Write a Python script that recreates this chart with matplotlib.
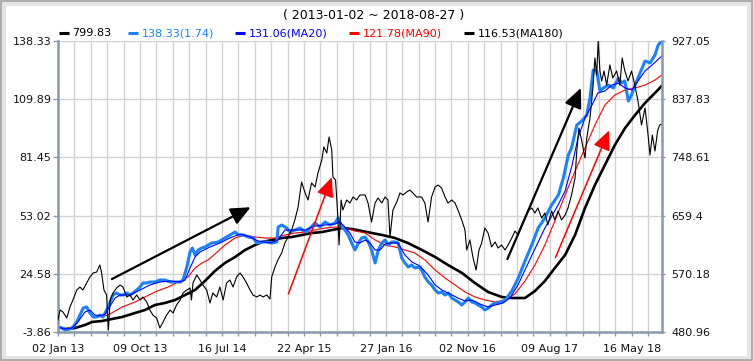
import matplotlib
matplotlib.use("Agg")
import matplotlib.pyplot as plt
import matplotlib.dates as mdates
from matplotlib.patches import Rectangle
from matplotlib.lines import Line2D
import numpy as np
import pandas as pd

start = pd.Timestamp("2013-01-02")
end = pd.Timestamp("2018-08-27")

# index close (right axis), days counted from start
idx_days = [0, 7, 17, 30, 41, 51, 64, 75, 85, 98, 109, 120, 132, 143, 149, 157, 166, 172, 178, 188,
            200, 212, 222, 235, 246, 256, 269, 280, 290, 303, 314, 324, 337, 348, 359, 371, 383, 393, 405, 417,
            427, 440, 451, 456, 461, 474, 485, 495, 508, 519, 529, 542, 553, 564, 576, 587, 598, 610, 622, 632,
            644, 656, 666, 679, 690, 700, 713, 724, 730, 741, 751, 764, 775, 786, 798, 809, 820, 832, 844, 854,
            866, 878, 888, 901, 908, 918, 926, 935, 939, 948, 955, 960, 967, 973, 986, 997, 1008, 1020, 1031, 1049,
            1059, 1071, 1083, 1093, 1106, 1117, 1127, 1134, 1144, 1157, 1168, 1178, 1191, 1202, 1212, 1225, 1242, 1253, 1264, 1276,
            1288, 1298, 1310, 1322, 1332, 1345, 1356, 1366, 1379, 1390, 1396, 1407, 1417, 1428, 1438, 1447, 1458, 1469, 1481, 1493,
            1503, 1515, 1527, 1537, 1550, 1561, 1571, 1584, 1595, 1605, 1618, 1629, 1639, 1652, 1663, 1673, 1686, 1697, 1708, 1720,
            1732, 1742, 1754, 1766, 1772, 1779, 1789, 1800, 1806, 1817, 1827, 1834, 1840, 1845, 1851, 1857, 1865, 1874, 1885, 1895,
            1908, 1919, 1927, 1936, 1947, 1959, 1970, 1981, 1993, 2005, 2014, 2022, 2030, 2039, 2048, 2055, 2063]
idx_vals = [499.4, 514.7, 511.6, 502.4, 519.3, 530.0, 545.3, 549.9, 545.3, 556.1, 565.3, 571.4, 572.9, 583.7, 571.4, 545.3, 537.7, 484.0, 530.0, 540.8,
            548.4, 553.0, 549.9, 534.6, 537.7, 530.0, 537.7, 530.0, 534.6, 527.0, 514.7, 507.0, 502.4, 487.1, 496.3, 507.0, 514.7, 510.1, 522.4, 530.0,
            540.8, 545.3, 548.4, 530.0, 556.1, 568.4, 560.7, 553.0, 545.3, 525.4, 540.8, 534.6, 549.9, 530.0, 556.1, 560.7, 549.9, 565.3, 571.4, 565.3,
            556.1, 545.3, 537.7, 534.6, 537.7, 534.6, 537.7, 531.6, 565.3, 580.6, 591.3, 602.1, 617.4, 626.6, 637.3, 652.7, 672.6, 710.9, 694.1, 683.3,
            709.4, 703.2, 724.7, 744.6, 764.6, 755.4, 779.9, 760.0, 718.6, 714.0, 663.4, 614.3, 683.3, 668.0, 683.3, 678.7, 687.9, 683.3, 691.0, 691.0,
            678.7, 649.6, 678.7, 686.4, 678.7, 687.9, 683.3, 626.6, 668.0, 680.2, 694.1, 691.0, 695.6, 698.6, 694.1, 687.9, 687.9, 678.7, 649.6, 687.9,
            703.2, 706.3, 701.7, 687.9, 678.7, 683.3, 678.7, 668.0, 652.7, 637.3, 606.7, 622.0, 596.0, 576.0, 606.7, 617.4, 640.4, 632.7, 611.3, 619.0,
            609.7, 614.3, 606.7, 614.3, 625.1, 635.8, 629.7, 645.0, 655.7, 666.5, 671.1, 663.4, 671.1, 655.7, 663.4, 645.0, 666.5, 652.7, 666.5, 652.7,
            660.3, 671.1, 691.0, 717.0, 758.4, 793.7, 773.8, 747.7, 778.4, 809.0, 855.0, 901.0, 875.0, 927.0, 881.1, 865.7, 881.1, 859.6, 890.3, 870.3,
            881.1, 859.6, 901.0, 881.1, 865.7, 881.1, 859.6, 835.1, 798.3, 824.4, 789.1, 752.3, 783.0, 758.4, 789.1, 798.3, 799.83]

# relative return line (left axis)
rel_days = [0, 13, 24, 41, 51, 64, 75, 86, 98, 109, 121, 132, 143, 154, 166, 178, 188, 200, 212, 222,
            235, 246, 256, 269, 280, 290, 303, 314, 331, 348, 365, 383, 400, 417, 427, 440, 451, 459, 468, 479,
            491, 502, 525, 547, 570, 587, 605, 616, 633, 650, 667, 679, 696, 713, 730, 747, 752, 764, 781, 792,
            809, 827, 844, 861, 878, 895, 912, 929, 946, 957, 969, 980, 991, 1003, 1014, 1026, 1037, 1049, 1060, 1071,
            1083, 1094, 1106, 1117, 1128, 1140, 1151, 1162, 1174, 1185, 1196, 1208, 1219, 1231, 1242, 1253, 1265, 1276, 1288, 1299,
            1310, 1322, 1333, 1345, 1356, 1367, 1379, 1390, 1401, 1413, 1424, 1435, 1447, 1458, 1470, 1481, 1492, 1504, 1515, 1527,
            1550, 1572, 1595, 1618, 1640, 1663, 1686, 1709, 1726, 1743, 1754, 1772, 1789, 1806, 1817, 1828, 1840, 1851, 1863, 1880,
            1897, 1914, 1925, 1936, 1948, 1959, 1971, 1988, 2005, 2022, 2039, 2050, 2063]
rel_vals = [-1.42, -1.91, -2.88, -2.39, -1.42, 1.03, 4.45, 7.87, 8.36, 5.42, 3.47, 3.47, 4.45, 3.47, 6.89, 10.80, 14.22, 15.20, 14.22, 14.22,
            15.20, 14.22, 15.20, 16.66, 18.13, 20.08, 20.08, 20.57, 20.57, 21.55, 21.55, 20.57, 20.57, 20.57, 21.55, 27.90, 35.23, 37.18, 33.76, 36.21,
            37.18, 37.67, 39.63, 40.12, 42.07, 43.54, 45.00, 43.54, 43.54, 42.56, 42.07, 39.63, 40.12, 40.12, 39.63, 40.12, 47.45, 48.42, 46.96, 45.00,
            45.98, 46.96, 45.00, 46.96, 49.40, 47.45, 49.89, 48.42, 49.40, 51.84, 47.45, 45.98, 43.54, 39.63, 36.21, 39.63, 42.07, 42.56, 40.12, 36.21,
            29.86, 36.21, 39.63, 41.09, 38.65, 40.12, 40.12, 39.63, 32.30, 29.86, 27.90, 28.88, 27.41, 27.90, 26.44, 23.01, 20.57, 19.11, 16.66, 15.20,
            15.69, 14.22, 15.20, 12.75, 11.78, 10.80, 9.33, 10.80, 12.75, 10.80, 10.31, 9.33, 8.36, 6.89, 7.87, 9.33, 10.31, 10.31, 10.80, 11.78,
            16.17, 22.53, 30.83, 38.65, 46.96, 51.84, 58.20, 63.08, 71.39, 82.63, 86.05, 97.29, 99.24, 102.17, 110.48, 124.16, 123.67, 113.90, 115.37, 116.83,
            115.37, 120.25, 117.81, 118.79, 109.01, 111.95, 116.83, 122.70, 128.56, 127.58, 131.49, 136.38, 138.33]

ma20_days = [0, 24, 48, 68, 92, 109, 126, 143, 161, 178, 195, 212, 246, 280, 314, 348, 383, 417, 434, 451,
             468, 485, 519, 553, 587, 622, 656, 683, 724, 751, 775, 809, 844, 878, 912, 946, 963, 980, 997, 1014,
             1031, 1049, 1066, 1083, 1100, 1117, 1134, 1161, 1185, 1209, 1236, 1264, 1288, 1311, 1339, 1366, 1390, 1414, 1441, 1469,
             1493, 1520, 1544, 1571, 1619, 1663, 1708, 1732, 1756, 1776, 1800, 1824, 1844, 1868, 1892, 1913, 1937, 1960, 1981, 2005,
             2029, 2063]
ma20_vals = [-1.42, -2.39, -1.91, 1.03, 5.91, 6.89, 4.45, 3.96, 4.94, 8.84, 12.75, 14.22, 14.22, 16.66, 19.11, 20.57, 21.06, 20.57, 21.55, 27.41,
             32.79, 35.23, 37.67, 39.63, 42.07, 44.03, 42.56, 40.61, 39.63, 41.09, 45.98, 45.98, 45.98, 47.93, 48.42, 48.91, 49.89, 47.45, 44.51, 40.12,
             39.63, 41.09, 39.63, 36.21, 36.21, 39.14, 39.63, 39.63, 33.76, 30.34, 28.39, 23.99, 19.11, 16.66, 14.71, 12.75, 11.29, 11.78, 9.82, 8.36,
             9.33, 10.31, 12.75, 19.11, 33.76, 46.96, 58.20, 65.04, 77.74, 90.93, 100.71, 107.06, 112.92, 113.90, 116.83, 117.81, 115.37, 114.39, 118.79, 123.67,
             126.60, 131.06]

ma90_days = [137, 171, 219, 263, 297, 331, 376, 423, 444, 468, 492, 512, 536, 570, 605, 639, 673, 707, 741, 775,
             809, 844, 878, 912, 946, 980, 1014, 1049, 1083, 1117, 1151, 1185, 1219, 1253, 1288, 1322, 1356, 1390, 1424, 1458,
             1492, 1527, 1561, 1595, 1629, 1663, 1697, 1732, 1766, 1800, 1834, 1868, 1902, 1937, 1971, 2005, 2039, 2063]
ma90_vals = [3.47, 4.45, 8.36, 10.80, 13.24, 15.69, 18.13, 21.55, 23.01, 27.41, 29.86, 31.32, 34.25, 38.65, 42.07, 43.54, 42.56, 42.07, 42.07, 43.54,
             44.51, 45.00, 45.98, 46.96, 47.45, 46.96, 45.49, 44.51, 41.09, 38.65, 37.67, 36.21, 34.74, 31.32, 26.44, 22.53, 19.11, 15.69, 13.24, 11.78,
             10.80, 11.78, 14.71, 21.06, 28.88, 38.65, 50.38, 63.08, 74.81, 86.05, 97.29, 107.06, 111.95, 114.39, 115.37, 116.83, 119.27, 121.78]

ma180_days = [0, 24, 58, 92, 116, 150, 184, 219, 263, 297, 331, 365, 400, 434, 468, 502, 536, 570, 605, 639,
              673, 697, 731, 765, 799, 833, 867, 902, 936, 970, 1004, 1038, 1072, 1107, 1151, 1195, 1243, 1288, 1332, 1380,
              1424, 1469, 1516, 1551, 1595, 1629, 1663, 1697, 1732, 1766, 1800, 1834, 1868, 1902, 1937, 1971, 2005, 2039, 2063]
ma180_vals = [-1.42, -2.39, -1.91, -0.44, 1.03, 1.51, 2.49, 3.47, 5.42, 6.89, 9.33, 10.31, 11.78, 14.22, 16.66, 21.06, 25.95, 29.86, 32.79, 36.21,
              38.65, 40.12, 41.09, 42.07, 42.56, 43.54, 44.51, 45.00, 45.98, 46.96, 46.47, 45.49, 44.51, 43.54, 42.07, 39.63, 36.21, 32.79, 28.88, 24.97,
              20.08, 15.69, 13.24, 12.75, 12.75, 16.17, 21.06, 27.41, 33.76, 43.54, 56.73, 67.97, 77.74, 87.51, 95.82, 102.17, 108.04, 112.92, 116.53]

legend_labels = ["799.83", "138.33(1.74)", "131.06(MA20)", "121.78(MA90)", "116.53(MA180)"]
legend_colors = ["black", "#1a82ff", "#0000ff", "#ff0000", "black"]

# trend arrows: (tail day, tail value, tip day, tip value, colour) on the left axis
arrows = [(184, 22.0, 658, 57.1, "black"),
          (787, 14.7, 935, 71.7, "red"),
          (1535, 31.8, 1786, 115.4, "black"),
          (1699, 32.5, 1882, 94.6, "red")]

left_lo, left_hi = -3.86, 138.33
right_lo, right_hi = 480.96, 927.05
axis_col = "#8a98ab"
grid_col = "#d2d2d2"


def to_dates(days):
    return start + pd.to_timedelta(days, unit="D")


fig = plt.figure(figsize=(7.54, 3.61), dpi=100, facecolor="#e4e4e4")
fig.patches.append(Rectangle((6 / 754, 5 / 361), 741 / 754, 350 / 361, transform=fig.transFigure,
                             facecolor="white", edgecolor="none", zorder=-2))
fig.patches.append(Rectangle((0.001, 0.002), 0.997, 0.996, transform=fig.transFigure,
                             fill=False, edgecolor="#a4a4a4", lw=1.2, zorder=-1))

ax = fig.add_axes([58 / 754, 29 / 361, 604 / 754, 291 / 361])
ax2 = ax.twinx()

ax.plot(to_dates(ma180_days), ma180_vals, color="black", lw=1.9)
ax.plot(to_dates(ma90_days), ma90_vals, color="#ff0000", lw=0.8)
ax.plot(to_dates(rel_days), rel_vals, color="#1a82ff", lw=2.2)
ax.plot(to_dates(ma20_days), ma20_vals, color="#0000ff", lw=0.8)
ax2.plot(to_dates(idx_days), idx_vals, color="black", lw=0.8)

ax.set_xlim(start, end)
ax.set_ylim(left_lo, left_hi)
ax2.set_ylim(right_lo, right_hi)

lticks = np.linspace(left_lo, left_hi, 6)
rticks = np.linspace(right_lo, right_hi, 6)
ax.set_yticks(lticks)
ax.set_yticklabels([f"{round(v, 2):g}" for v in lticks])
ax2.set_yticks(rticks)
ax2.set_yticklabels([f"{round(v, 2):g}" for v in rticks])

grid_dates = pd.date_range(start, end, freq="56D")
label_dates = pd.date_range(start, end, freq="280D")
ax.set_xticks(label_dates)
ax.set_xticks(grid_dates, minor=True)
ax.xaxis.set_major_formatter(mdates.DateFormatter("%d %b %y"))

ax.grid(True, which="both", axis="x", color=grid_col, lw=1)
ax.grid(True, which="major", axis="y", color=grid_col, lw=1)

for sp in ["top", "right"]:
    ax.spines[sp].set_visible(False)
for sp in ["top", "left", "bottom"]:
    ax2.spines[sp].set_visible(False)
for sp in [ax.spines["left"], ax.spines["bottom"], ax2.spines["right"]]:
    sp.set_color(axis_col)
    sp.set_linewidth(1.8)

ax.tick_params(axis="y", length=3.3, width=1, color=axis_col, labelsize=8, pad=1.5, labelcolor="#111111")
ax.tick_params(axis="x", which="both", length=3, width=1, color=axis_col, labelsize=8, pad=6, labelcolor="#111111")
ax2.tick_params(axis="y", length=2.5, width=1, color=axis_col, labelsize=8, pad=4, labelcolor="#111111")

for x0, y0, x1, y1, col in arrows:
    tail = (mdates.date2num(to_dates([x0])[0]), y0)
    tip = (mdates.date2num(to_dates([x1])[0]), y1)
    ax2.annotate("", xy=tip, xytext=tail, xycoords=ax.transData, textcoords=ax.transData,
                 arrowprops=dict(arrowstyle="-|>,head_length=0.85,head_width=0.38", mutation_scale=14,
                                 color=col, lw=1.6 if col == "black" else 1.1,
                                 shrinkA=0, shrinkB=0))

fig.text(373.5 / 754, 1 - 16 / 361, "( 2013-01-02 ~ 2018-08-27 )", ha="center", va="center", fontsize=9)

# legend row drawn by hand, like the original chart
dash_x = [59, 128, 235, 349, 464]
for x, lab, col in zip(dash_x, legend_labels, legend_colors):
    yy = 1 - 33 / 361
    fig.add_artist(Line2D([x / 754, (x + 9.5) / 754], [yy, yy], transform=fig.transFigure,
                          color=col, lw=2.2, solid_capstyle="butt"))
    fig.text((x + 13.5) / 754, yy, lab, ha="left", va="center", fontsize=8, color=col)

fig.savefig("out.png", dpi=100, facecolor=fig.get_facecolor())
